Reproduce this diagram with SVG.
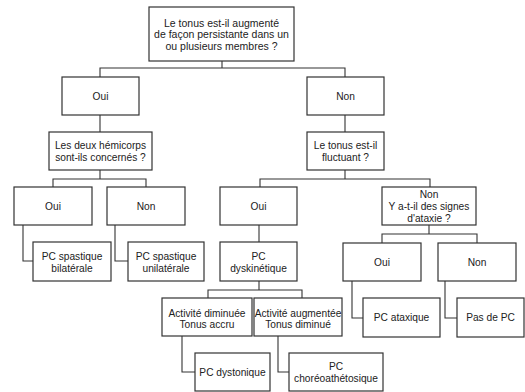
<svg xmlns="http://www.w3.org/2000/svg" width="525" height="392" viewBox="0 0 525 392">
<style>
.b{fill:#fff;stroke:#333;stroke-width:1.2}
.c{fill:none;stroke:#333;stroke-width:1.1}
text{font-family:"Liberation Sans",Arial,sans-serif;font-size:10.2px;fill:#222;text-anchor:middle}
</style>
<rect width="525" height="392" fill="#fff"/>
<g id="connectors">
<path class="c" d="M222 61V68M100 77V68H345V77"/>
<path class="c" d="M100 115V132M345 115V132"/>
<path class="c" d="M100 170V179M53 187V179H146V187"/>
<path class="c" d="M23 225V261H33M115 225V261H128"/>
<path class="c" d="M345 170V179M260 187V179H430V187"/>
<path class="c" d="M259 225V242"/>
<path class="c" d="M259 281V290M208 298V290H302V298"/>
<path class="c" d="M429 225V234M382 243V234H477V243"/>
<path class="c" d="M352 281V318H363M445 281V318H457"/>
<path class="c" d="M182 336V372H195M278 336V372H289"/>
</g>
<g id="q1"><rect class="b" x="149" y="7" width="145" height="54"/><text x="221.5" y="26.5" style="font-size:10.5px">Le tonus est-il augmenté</text><text x="221.5" y="38" style="font-size:10.5px">de façon persistante dans un</text><text x="221.5" y="49.5" style="font-size:10.5px">ou plusieurs membres ?</text></g>
<g id="oui1"><rect class="b" x="62" y="77" width="77" height="38"/><text x="100.5" y="99.7">Oui</text></g>
<g id="non1"><rect class="b" x="307" y="77" width="77" height="38"/><text x="345.5" y="99.7">Non</text></g>
<g id="hemi"><rect class="b" x="49" y="132" width="103" height="38"/><text x="100.5" y="149.4">Les deux hémicorps</text><text x="100.5" y="161">sont-ils concernés ?</text></g>
<g id="fluct"><rect class="b" x="307" y="132" width="77" height="38"/><text x="345.5" y="149.4">Le tonus est-il</text><text x="345.5" y="161">fluctuant ?</text></g>
<g id="oui2"><rect class="b" x="14" y="187" width="78" height="38"/><text x="53" y="209.7">Oui</text></g>
<g id="non2"><rect class="b" x="107" y="187" width="78" height="38"/><text x="146" y="209.7">Non</text></g>
<g id="bilat"><rect class="b" x="33" y="242" width="78" height="39"/><text x="72" y="259.7">PC spastique</text><text x="72" y="272">bilatérale</text></g>
<g id="unilat"><rect class="b" x="128" y="242" width="76" height="39"/><text x="166" y="259.7">PC spastique</text><text x="166" y="272">unilatérale</text></g>
<g id="oui3"><rect class="b" x="220" y="187" width="77" height="38"/><text x="258.5" y="209.7">Oui</text></g>
<g id="nonY"><rect class="b" x="382" y="187" width="94" height="38"/><text x="429" y="198">Non</text><text x="429" y="210.3">Y a-t-il des signes</text><text x="429" y="222">d'ataxie ?</text></g>
<g id="dysk"><rect class="b" x="220" y="242" width="77" height="39"/><text x="258.5" y="259.7">PC</text><text x="258.5" y="272.3">dyskinétique</text></g>
<g id="ouiR"><rect class="b" x="343" y="243" width="78" height="38"/><text x="382" y="265.7">Oui</text></g>
<g id="nonR"><rect class="b" x="438" y="243" width="78" height="38"/><text x="477" y="265.7">Non</text></g>
<g id="dimin"><rect class="b" x="162" y="298" width="90" height="38"/><text x="207" y="317">Activité diminuée</text><text x="207" y="328">Tonus accru</text></g>
<g id="augm"><rect class="b" x="254" y="298" width="88" height="38"/><text x="298" y="317">Activité augmentée</text><text x="298" y="328">Tonus diminué</text></g>
<g id="ataxique"><rect class="b" x="363" y="298" width="77" height="39"/><text x="401.5" y="321">PC ataxique</text></g>
<g id="pasdepc"><rect class="b" x="457" y="298" width="67" height="39"/><text x="490.5" y="321">Pas de PC</text></g>
<g id="dystonique"><rect class="b" x="195" y="353" width="75" height="38"/><text x="232.5" y="375.7">PC dystonique</text></g>
<g id="choreo"><rect class="b" x="289" y="353" width="94" height="38"/><text x="336" y="369.7">PC</text><text x="336" y="382">choréoathétosique</text></g>
</svg>
